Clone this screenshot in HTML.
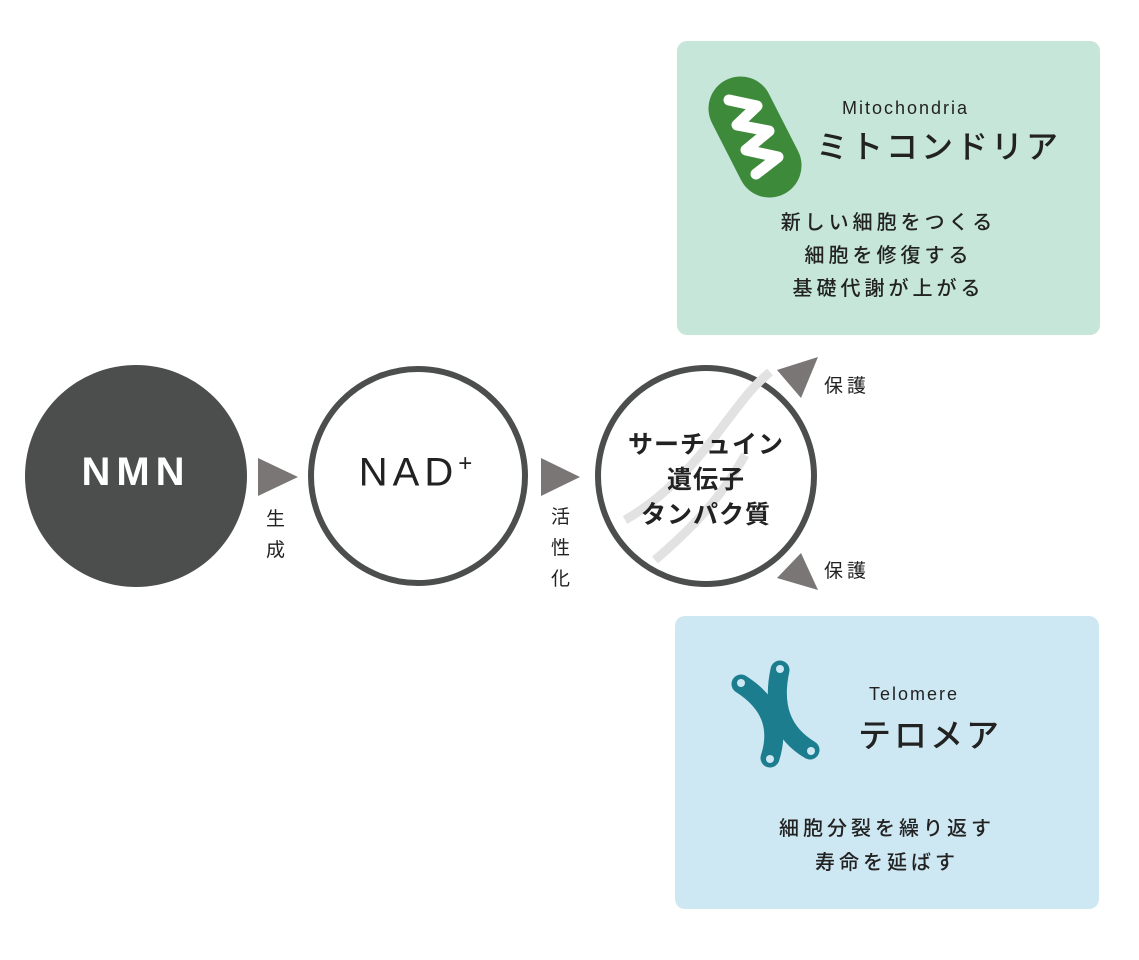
<!DOCTYPE html>
<html><head><meta charset="utf-8"><style>
body{margin:0;background:#fff;width:1139px;height:960px;position:relative;overflow:hidden;font-family:"Liberation Sans","Noto Sans CJK JP",sans-serif;color:#222}
.a{position:absolute}
.box{position:absolute;border-radius:10px}
.jp{font-family:"Noto Sans CJK JP",sans-serif}
.c{text-align:center}
</style></head><body>
<div class="box" style="left:677px;top:41px;width:423px;height:294px;background:#c6e6da"></div>
<div class="box" style="left:675px;top:616px;width:424px;height:293px;background:#cde8f2"></div>

<svg class="a" style="left:0;top:0" width="1139" height="960">
  <circle cx="136" cy="476" r="111" fill="#4c4e4e"/>
  <circle cx="418" cy="476" r="107" fill="#fff" stroke="#4c4e4e" stroke-width="6"/>
  <circle cx="706" cy="476" r="108" fill="#fff" stroke="#4c4e4e" stroke-width="6"/>
  <g stroke="#e2e2e2" stroke-width="9" fill="none">
    <path d="M625 520 C660 500,690 470,720 430 S755 385,770 372"/>
    <path d="M655 560 C690 530,720 500,745 455"/>
  </g>
  <polygon points="258,458 298,477 258,496" fill="#7a7676"/>
  <polygon points="541,458 580,477 541,496" fill="#7a7676"/>
  <polygon points="777,370 818,357 801,398" fill="#7a7676"/>
  <polygon points="801,553 818,590 777,578" fill="#7a7676"/>
  <rect x="723" y="73" width="64" height="128" rx="32" fill="#3e8a3b" transform="rotate(-27 755 137)"/>
  <path d="M729 100 L757 106 L737 125 L769 131 L746 150 L778 157 L756 174" stroke="#fff" stroke-width="11" fill="none" stroke-linecap="round" stroke-linejoin="round"/>
  <g stroke="#1c7d8f" stroke-width="19" fill="none" stroke-linecap="round">
    <path d="M741 684 Q785 712 770 758"/>
    <path d="M780 670 Q768 725 810 750"/>
  </g>
  <g fill="#cde8f2"><circle cx="741" cy="683" r="4"/><circle cx="780" cy="669" r="4"/><circle cx="770" cy="759" r="4"/><circle cx="811" cy="751" r="4"/></g>
</svg>

<div class="a c" style="left:25px;top:450px;width:222px;font-size:40px;color:#fff;letter-spacing:6px;font-weight:700">NMN</div>
<div class="a c" style="left:318px;top:450px;width:200px;font-size:40px;color:#222;letter-spacing:5px;font-weight:500">NAD<sup style="font-size:24px">+</sup></div>
<div class="a c jp" style="left:598px;top:426px;width:216px;font-size:25px;line-height:35px;font-weight:700;letter-spacing:1px">サーチュイン<br>遺伝子<br>タンパク質</div>

<div class="a jp" style="left:266px;top:502px;width:22px;font-size:19px;line-height:31px">生<br>成</div>
<div class="a jp" style="left:551px;top:500px;width:22px;font-size:19px;line-height:31px">活<br>性<br>化</div>
<div class="a jp" style="left:824px;top:371px;font-size:19px;letter-spacing:4px">保護</div>
<div class="a jp" style="left:824px;top:556px;font-size:19px;letter-spacing:4px">保護</div>

<div class="a" style="left:842px;top:98px;font-size:18px;letter-spacing:2px">Mitochondria</div>
<div class="a jp" style="left:816px;top:122px;font-size:32px;letter-spacing:3px;font-weight:500">ミトコンドリア</div>
<div class="a c jp" style="left:677px;top:204px;width:423px;font-size:20px;line-height:33px;letter-spacing:4px;font-weight:500">新しい細胞をつくる<br>細胞を修復する<br>基礎代謝が上がる</div>

<div class="a" style="left:869px;top:684px;font-size:18px;letter-spacing:2px">Telomere</div>
<div class="a jp" style="left:858px;top:709px;font-size:33px;letter-spacing:3px;font-weight:500">テロメア</div>
<div class="a c jp" style="left:675px;top:810px;width:424px;font-size:20px;line-height:34px;letter-spacing:4px;font-weight:500">細胞分裂を繰り返す<br>寿命を延ばす</div>
</body></html>
